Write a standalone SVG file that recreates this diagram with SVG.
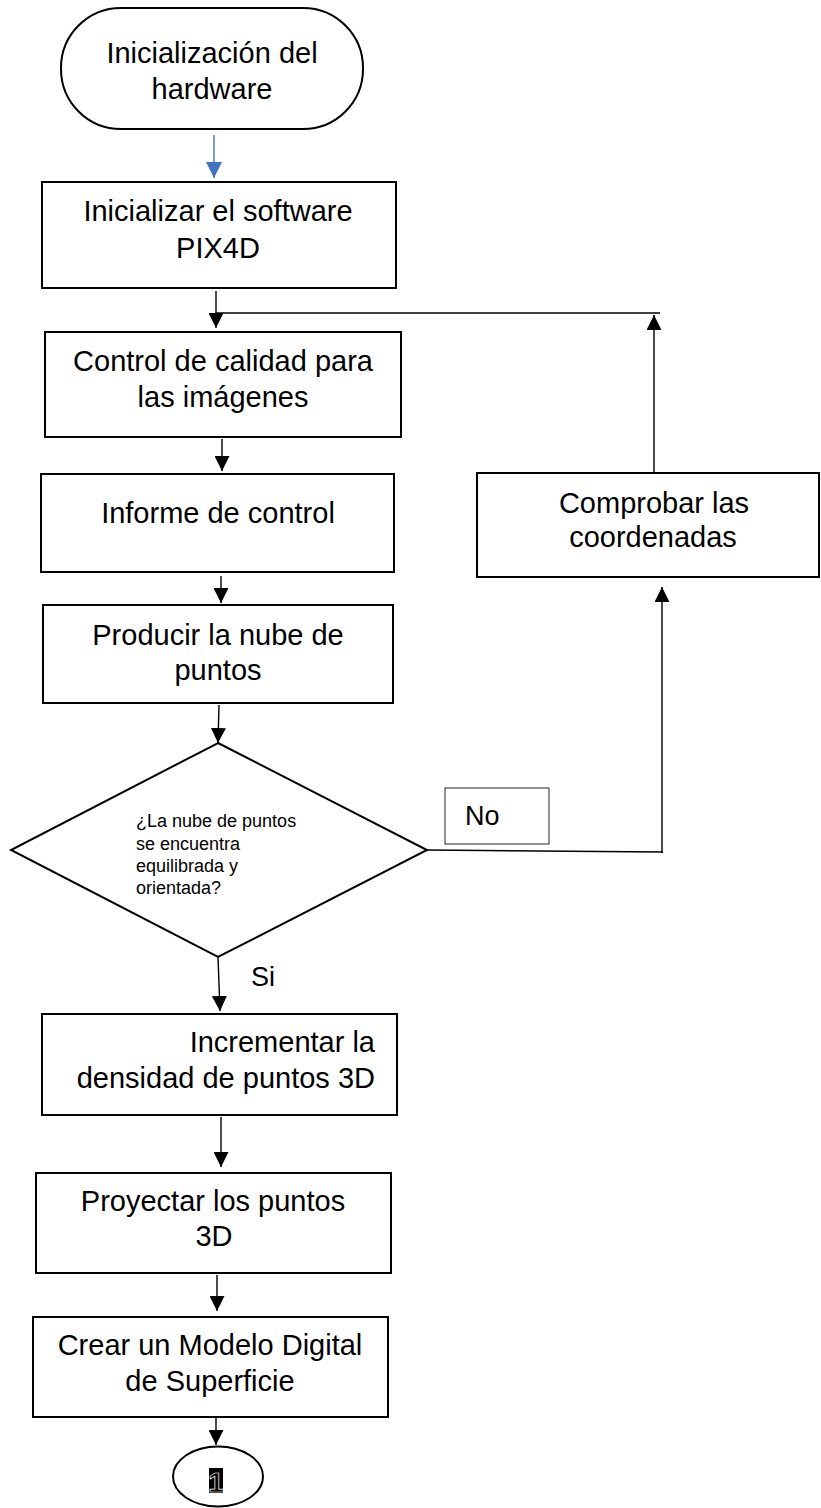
<svg xmlns="http://www.w3.org/2000/svg" width="821" height="1508" viewBox="0 0 821 1508">
<defs>
<style>
.box{fill:#fff;stroke:#000;stroke-width:2}
.t{font-family:"Liberation Sans",Arial,sans-serif;font-size:29px;fill:#000;text-anchor:middle}
.ts{font-family:"Liberation Sans",Arial,sans-serif;font-size:18px;fill:#000}
.lbl{font-family:"Liberation Sans",Arial,sans-serif;font-size:27px;fill:#000}
.c{fill:none;stroke:#000;stroke-width:1.4}
.cb{fill:none;stroke:#4472C4;stroke-width:1.4}
</style>
<marker id="ah" viewBox="0 0 15 15" refX="15" refY="7.5" markerWidth="15" markerHeight="15" markerUnits="userSpaceOnUse" orient="auto"><path d="M0,0 L15,7.5 L0,15 z" fill="#000"/></marker>
<marker id="ahb" viewBox="0 0 16 16" refX="16" refY="8" markerWidth="16" markerHeight="16" markerUnits="userSpaceOnUse" orient="auto"><path d="M0,0 L16,8 L0,16 z" fill="#4472C4"/></marker>
</defs>
<rect width="821" height="1508" fill="#fff"/>
<g id="connectors">
<line class="cb" x1="214" y1="135" x2="214" y2="178" marker-end="url(#ahb)"/>
<line class="c" x1="216" y1="291" x2="216" y2="328" marker-end="url(#ah)"/>
<line class="c" x1="216" y1="313" x2="660" y2="313"/>
<line class="c" x1="654" y1="473" x2="654" y2="315" marker-end="url(#ah)"/>
<line class="c" x1="222" y1="439" x2="222" y2="471" marker-end="url(#ah)"/>
<line class="c" x1="221" y1="576" x2="221" y2="603" marker-end="url(#ah)"/>
<line class="c" x1="219" y1="705" x2="218" y2="743" marker-end="url(#ah)"/>
<polyline class="c" points="427,850 662,852 662,853"/>
<line class="c" x1="662" y1="853" x2="662" y2="587" marker-end="url(#ah)"/>
<line class="c" x1="218" y1="957" x2="220" y2="1011" marker-end="url(#ah)"/>
<line class="c" x1="221" y1="1117" x2="221" y2="1167" marker-end="url(#ah)"/>
<line class="c" x1="217" y1="1275" x2="217" y2="1311" marker-end="url(#ah)"/>
<line class="c" x1="216" y1="1410" x2="216" y2="1445" marker-end="url(#ah)"/>
</g>
<g id="start">
<rect class="box" x="61" y="8" width="302" height="121" rx="60" ry="60"/>
<text class="t" x="212" y="63">Inicialización del</text>
<text class="t" x="212" y="99">hardware</text>
</g>
<g id="n-software">
<rect class="box" x="42" y="182" width="354" height="106"/>
<text class="t" x="218" y="221">Inicializar el software</text>
<text class="t" x="218" y="258">PIX4D</text>
</g>
<g id="n-calidad">
<rect class="box" x="45" y="332" width="356" height="105"/>
<text class="t" x="223" y="371">Control de calidad para</text>
<text class="t" x="223" y="407">las imágenes</text>
</g>
<g id="n-informe">
<rect class="box" x="41" y="474" width="353" height="98"/>
<text class="t" x="218" y="523">Informe de control</text>
</g>
<g id="n-comprobar">
<rect class="box" x="477" y="473" width="342" height="104"/>
<text class="t" x="654" y="513">Comprobar las</text>
<text class="t" x="653" y="547">coordenadas</text>
</g>
<g id="n-producir">
<rect class="box" x="43" y="605" width="350" height="98"/>
<text class="t" x="218" y="645">Producir la nube de</text>
<text class="t" x="218" y="680">puntos</text>
</g>
<g id="n-decision">
<polygon class="box" points="218,743 427,850 218,957 11,850"/>
<text class="ts" x="136" y="827">¿La nube de puntos</text>
<text class="ts" x="136" y="850">se encuentra</text>
<text class="ts" x="136" y="872">equilibrada y</text>
<text class="ts" x="136" y="894">orientada?</text>
</g>
<g id="l-no">
<rect x="445" y="788" width="104" height="56" fill="#fff" stroke="#222" stroke-width="1"/>
<text class="lbl" x="465" y="825">No</text>
</g>
<g id="l-si">
<text class="lbl" x="251" y="986">Si</text>
</g>
<g id="n-incrementar">
<rect class="box" x="42" y="1014" width="355" height="101"/>
<text class="t" x="375" y="1052" style="text-anchor:end">Incrementar la</text>
<text class="t" x="375" y="1088" style="text-anchor:end">densidad de puntos 3D</text>
</g>
<g id="n-proyectar">
<rect class="box" x="36" y="1173" width="355" height="100"/>
<text class="t" x="213" y="1211">Proyectar los puntos</text>
<text class="t" x="214" y="1246">3D</text>
</g>
<g id="n-crear">
<rect class="box" x="33" y="1317" width="355" height="100"/>
<text class="t" x="210" y="1355">Crear un Modelo Digital</text>
<text class="t" x="210" y="1391">de Superficie</text>
</g>
<g id="n-connector1">
<ellipse class="box" cx="218" cy="1476.5" rx="45" ry="30"/>
<rect x="209" y="1468" width="14" height="25" fill="#000"/>
<text x="216" y="1492" style="font-family:'Liberation Sans',Arial,sans-serif;font-size:28px;font-weight:bold;text-anchor:middle" fill="#000" stroke="#fff" stroke-width="0.7">1</text>
</g>
</svg>
